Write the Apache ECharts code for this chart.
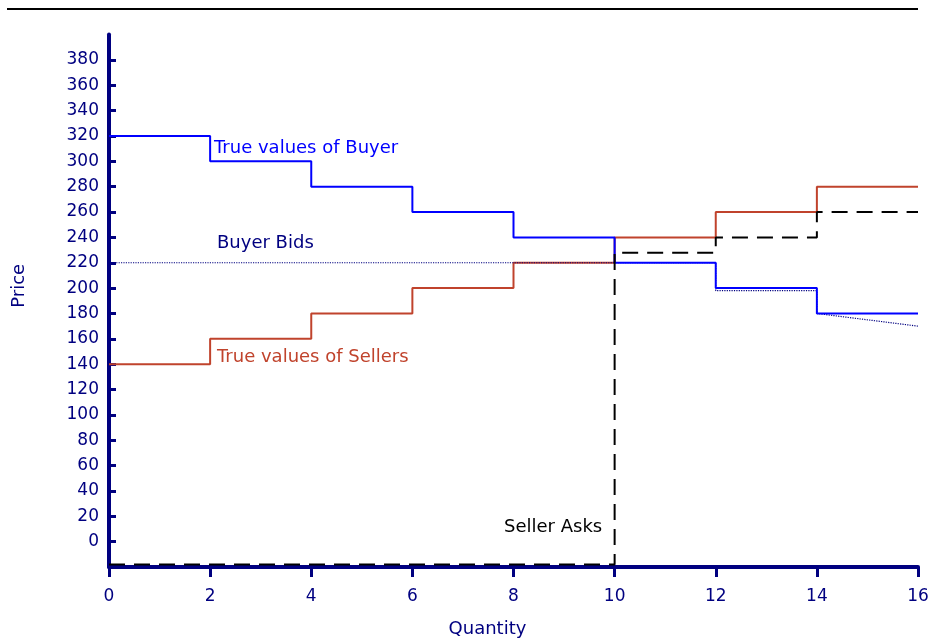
<!DOCTYPE html>
<html>
<head>
<meta charset="utf-8">
<script src="https://cdn.jsdelivr.net/npm/echarts@6/dist/echarts.min.js"></script>
<style>html,body{margin:0;padding:0;background:#fff}#c{width:929px;height:642px}</style>
</head>
<body>
<div id="c"></div>
<script>
// Data
const quantities = [0, 2, 4, 6, 8, 10, 12, 14, 16];
const buyerTrue = [320, 300, 280, 260, 240, 220, 200, 180, 180];
const sellerTrue = [140, 160, 180, 200, 220, 240, 260, 280, 280];
const askQty = [0, 10, 12, 14, 16];
const askPrice = [-18, 228, 240, 260, 260];
const bidQty = [0, 12, 12, 14, 14, 16];
const bidPrice = [220, 220, 198, 198, 180, 170];
const yTicks = [0, 20, 40, 60, 80, 100, 120, 140, 160, 180, 200, 220, 240, 260, 280, 300, 320, 340, 360, 380];

const zip = (xs, ys) => xs.map((x, i) => [x, ys[i]]);
const NAVY = '#000080';
const FONT = 'DejaVu Sans';

const chart = echarts.init(document.getElementById('c'));
chart.setOption({
  animation: false,
  backgroundColor: '#fff',
  grid: { left: 109, right: 11, top: 34.6, bottom: 75, containLabel: false, outerBoundsMode: 'none' },
  xAxis: {
    type: 'value', min: 0, max: 16, interval: 2,
    name: 'Quantity', nameLocation: 'middle', nameGap: 53,
    nameTextStyle: { color: NAVY, fontFamily: FONT, fontSize: 18, padding: [0, 52, 0, 0] },
    axisLine: { show: true, onZero: false, lineStyle: { color: NAVY, width: 4 } },
    axisTick: { show: true, inside: false, length: 10, lineStyle: { color: NAVY, width: 3 } },
    axisLabel: { color: NAVY, fontFamily: FONT, fontSize: 17, margin: 21 },
    splitLine: { show: false }
  },
  yAxis: {
    type: 'value', min: -20, max: 400, interval: 20,
    name: 'Price', nameLocation: 'middle', nameGap: 81,
    nameTextStyle: { color: NAVY, fontFamily: FONT, fontSize: 18, padding: [0, 0, 0, 30] },
    axisLine: { show: true, onZero: false, lineStyle: { color: NAVY, width: 4 } },
    axisTick: { show: true, inside: true, length: 7, customValues: yTicks, lineStyle: { color: NAVY, width: 3 } },
    axisLabel: { color: NAVY, fontFamily: FONT, fontSize: 17, margin: 10, customValues: yTicks },
    splitLine: { show: false }
  },
  series: [
    {
      name: 'Buyer Bids', type: 'line', data: zip(bidQty, bidPrice),
      symbol: 'none', lineStyle: { color: NAVY, width: 1.2, type: 'dotted' }, z: 3
    },
    {
      name: 'True values of Sellers', type: 'line', step: 'end', data: zip(quantities, sellerTrue),
      symbol: 'none', lineStyle: { color: '#c0432c', width: 2 }, z: 2
    },
    {
      name: 'True values of Buyer', type: 'line', step: 'end', data: zip(quantities, buyerTrue),
      symbol: 'none', lineStyle: { color: '#0000ff', width: 2 }, z: 4
    },
    {
      name: 'Seller Asks', type: 'line', step: 'end', data: zip(askQty, askPrice),
      symbol: 'none', lineStyle: { color: '#000000', width: 2, type: [16, 9] }, z: 5
    }
  ],
  graphic: [
    { type: 'line', shape: { x1: 7, y1: 9, x2: 918, y2: 9 }, style: { stroke: '#000', lineWidth: 2 } },
    { type: 'text', x: 214, y: 148, style: { text: 'True values of Buyer', fill: '#0000ff', font: '18px "DejaVu Sans"', textVerticalAlign: 'middle' } },
    { type: 'text', x: 217, y: 243, style: { text: 'Buyer Bids', fill: NAVY, font: '18px "DejaVu Sans"', textVerticalAlign: 'middle' } },
    { type: 'text', x: 217, y: 357, style: { text: 'True values of Sellers', fill: '#c0432c', font: '18px "DejaVu Sans"', textVerticalAlign: 'middle' } },
    { type: 'text', x: 504, y: 527, style: { text: 'Seller Asks', fill: '#000', font: '18px "DejaVu Sans"', textVerticalAlign: 'middle' } }
  ]
});
</script>
</body>
</html>
